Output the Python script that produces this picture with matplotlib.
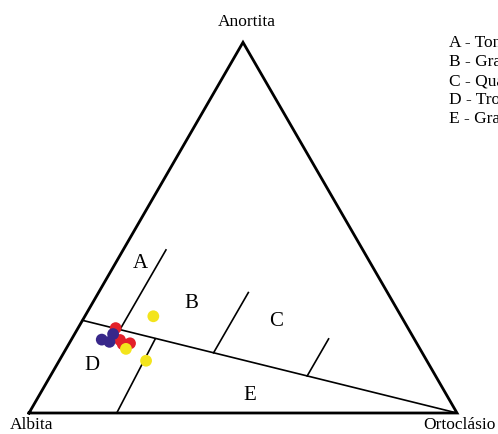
import numpy as np
import matplotlib
matplotlib.use('Agg')
import matplotlib.pyplot as plt

plt.rcParams['font.family'] = ['Liberation Serif', 'DejaVu Serif']

# amostras: An, Ab, Or (%)
red_an = [22.9, 19.7, 18.6, 18.8]
red_ab = [68.3, 68.9, 68.8, 67.0]
red_or = [8.8, 11.4, 12.6, 14.2]

blue_an = [21.3, 19.8, 19.2]
blue_ab = [69.7, 73.1, 71.6]
blue_or = [9.0, 7.1, 9.2]

yel_an = [17.3, 26.1, 14.1]
yel_ab = [68.7, 57.9, 65.6]
yel_or = [14.0, 16.0, 20.3]

# limites dos campos (An, Or) em %
field_lines = [
    [(25, 0), (0, 100)],       # An25 -> Or
    [(0, 20.5), (20, 19.5)],   # D | E
    [(22.5, 10), (44, 10)],    # A | B
    [(16.25, 35), (32.5, 35)], # B | C
    [(10, 60), (20, 60)],      # C | granito
]

field_names = ['A', 'B', 'C', 'D', 'E']
field_pos = [(40.7, 5.6), (29.7, 23.0), (24.9, 45.3), (13.2, 8.0), (5.1, 49.1)]  # (An, Or)

legend_items = ['A - Tonalito', 'B - Granodiorito', 'C - Quartzo monzonito',
                'D - Trondhjemito', 'E - Granito']

H = np.sqrt(3) / 2


def tern(an, orc):
    an = np.asarray(an) / 100.0
    orc = np.asarray(orc) / 100.0
    return orc + an / 2, an * H


fig = plt.figure(figsize=(4.98, 4.35), dpi=100)
ax = fig.add_axes([0, 0, 1, 1])
ax.set_xlim(-29 / 428, 469 / 428)
ax.set_ylim(-21 / 428, 414 / 428)
ax.axis('off')

# triangulo
tx, ty = tern([0, 0, 100, 0], [0, 100, 0, 0])
ax.plot(tx, ty, color='black', lw=2.0, solid_joinstyle='miter', zorder=2)

for (a0, o0), (a1, o1) in field_lines:
    lx, ly = tern([a0, a1], [o0, o1])
    ax.plot(lx, ly, color='black', lw=1.2, zorder=2)

for name, (a, o) in zip(field_names, field_pos):
    x, y = tern(a, o)
    ax.text(x, y, name, fontsize=15, ha='center', va='center')

ax.text(0.51, H + 0.05, 'Anortita', fontsize=12.5, ha='center', va='center')
ax.text(0.006, -0.026, 'Albita', fontsize=12.5, ha='center', va='center')
ax.text(1.006, -0.026, 'Ortoclásio', fontsize=12.5, ha='center', va='center')

# legenda (cortada na borda direita)
for i, t in enumerate(legend_items):
    ax.text((449 - 29) / 428, (414 - 43 - 19 * i) / 428, t, fontsize=12.5,
            ha='left', va='center', clip_on=False)

ms = 72
x, y = tern(red_an, red_or)
ax.scatter(x, y, s=ms, color='#e3202a', edgecolors='none', zorder=3)
x, y = tern(blue_an, blue_or)
ax.scatter(x, y, s=ms, color='#38278a', edgecolors='none', zorder=4)
x, y = tern(yel_an, yel_or)
ax.scatter(x, y, s=ms, color='#f3e41c', edgecolors='none', zorder=5)

fig.savefig('out.png', dpi=100)
